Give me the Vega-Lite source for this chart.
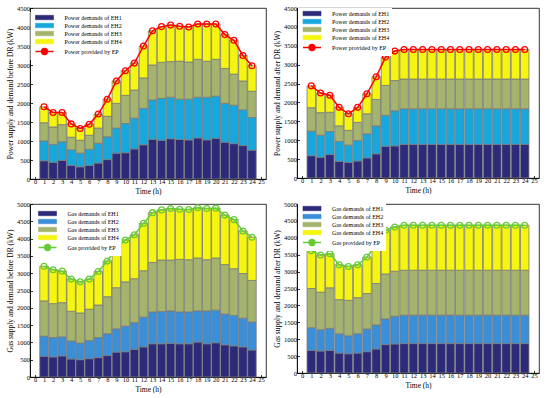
{
  "$schema": "https://vega.github.io/schema/vega-lite/v6.json",
  "padding": {"left": 5, "top": 4, "right": 2, "bottom": 0},
  "background": "white",
  "config": {
    "font": "Liberation Serif",
    "view": {"stroke": "#000", "strokeWidth": 0.8},
    "axis": {"labelFont": "Liberation Serif", "titleFont": "Liberation Serif", "labelFontSize": 6.5, "titleFontSize": 7.5, "titleFontWeight": "normal", "grid": false, "domainColor": "#000", "tickColor": "#000", "labelColor": "#000", "titleColor": "#000", "tickSize": -2.5, "domainWidth": 0.8, "tickWidth": 0.8, "format": "d"},
    "axisX": {"labelFlush": false, "labelOverlap": false, "labelPadding": 1.5, "titlePadding": 3},
    "axisY": {"labelOverlap": false, "labelPadding": 3, "titlePadding": 2.5},
    "legend": {"labelFont": "Liberation Serif", "labelFontSize": 6, "labelColor": "#000", "symbolSize": 25, "symbolOffset": 8.5, "labelOffset": 17, "rowPadding": 0, "padding": 2.5, "fillColor": "white", "orient": "none", "direction": "vertical", "title": null, "labelLimit": 200}
  },
  "datasets": {
    "p1": [
      {"h":1,"EH1":480,"EH2":520,"EH3":480,"EH4":420,"EP":1900},
      {"h":2,"EH1":440,"EH2":470,"EH3":460,"EH4":380,"EP":1750},
      {"h":3,"EH1":490,"EH2":490,"EH3":450,"EH4":320,"EP":1750},
      {"h":4,"EH1":360,"EH2":410,"EH3":330,"EH4":350,"EP":1450},
      {"h":5,"EH1":320,"EH2":360,"EH3":340,"EH4":310,"EP":1330},
      {"h":6,"EH1":360,"EH2":420,"EH3":370,"EH4":290,"EP":1440},
      {"h":7,"EH1":420,"EH2":520,"EH3":400,"EH4":360,"EP":1710},
      {"h":8,"EH1":510,"EH2":600,"EH3":540,"EH4":450,"EP":2100},
      {"h":9,"EH1":680,"EH2":660,"EH3":650,"EH4":590,"EP":2580},
      {"h":10,"EH1":690,"EH2":770,"EH3":740,"EH4":650,"EP":2850},
      {"h":11,"EH1":790,"EH2":810,"EH3":740,"EH4":710,"EP":3050},
      {"h":12,"EH1":900,"EH2":960,"EH3":800,"EH4":840,"EP":3500},
      {"h":13,"EH1":1040,"EH2":1040,"EH3":920,"EH4":900,"EP":3900},
      {"h":14,"EH1":1020,"EH2":1100,"EH3":950,"EH4":930,"EP":4010},
      {"h":15,"EH1":1060,"EH2":1090,"EH3":940,"EH4":960,"EP":4050},
      {"h":16,"EH1":1040,"EH2":1060,"EH3":1000,"EH4":920,"EP":4020},
      {"h":17,"EH1":1030,"EH2":1070,"EH3":980,"EH4":920,"EP":4000},
      {"h":18,"EH1":1080,"EH2":1070,"EH3":1000,"EH4":930,"EP":4080},
      {"h":19,"EH1":1030,"EH2":1120,"EH3":950,"EH4":980,"EP":4080},
      {"h":20,"EH1":1070,"EH2":1110,"EH3":970,"EH4":930,"EP":4080},
      {"h":21,"EH1":970,"EH2":1020,"EH3":920,"EH4":890,"EP":3800},
      {"h":22,"EH1":930,"EH2":1010,"EH3":820,"EH4":890,"EP":3650},
      {"h":23,"EH1":880,"EH2":940,"EH3":760,"EH4":670,"EP":3250},
      {"h":24,"EH1":760,"EH2":860,"EH3":690,"EH4":670,"EP":2980}
    ],
    "p2": [
      {"h":1,"EH1":590,"EH2":650,"EH3":620,"EH4":580,"EP":2440},
      {"h":2,"EH1":550,"EH2":580,"EH3":600,"EH4":520,"EP":2250},
      {"h":3,"EH1":620,"EH2":610,"EH3":510,"EH4":450,"EP":2190},
      {"h":4,"EH1":440,"EH2":530,"EH3":410,"EH4":490,"EP":1870},
      {"h":5,"EH1":410,"EH2":460,"EH3":390,"EH4":440,"EP":1700},
      {"h":6,"EH1":450,"EH2":540,"EH3":480,"EH4":400,"EP":1870},
      {"h":7,"EH1":530,"EH2":640,"EH3":530,"EH4":530,"EP":2230},
      {"h":8,"EH1":640,"EH2":740,"EH3":700,"EH4":600,"EP":2680},
      {"h":9,"EH1":840,"EH2":820,"EH3":790,"EH4":750,"EP":3200},
      {"h":10,"EH1":850,"EH2":930,"EH3":800,"EH4":780,"EP":3360},
      {"h":11,"EH1":890,"EH2":940,"EH3":790,"EH4":780,"EP":3400},
      {"h":12,"EH1":890,"EH2":940,"EH3":790,"EH4":780,"EP":3400},
      {"h":13,"EH1":890,"EH2":940,"EH3":790,"EH4":780,"EP":3400},
      {"h":14,"EH1":890,"EH2":940,"EH3":790,"EH4":780,"EP":3400},
      {"h":15,"EH1":890,"EH2":940,"EH3":790,"EH4":780,"EP":3400},
      {"h":16,"EH1":890,"EH2":940,"EH3":790,"EH4":780,"EP":3400},
      {"h":17,"EH1":890,"EH2":940,"EH3":790,"EH4":780,"EP":3400},
      {"h":18,"EH1":890,"EH2":940,"EH3":790,"EH4":780,"EP":3400},
      {"h":19,"EH1":890,"EH2":940,"EH3":790,"EH4":780,"EP":3400},
      {"h":20,"EH1":890,"EH2":940,"EH3":790,"EH4":780,"EP":3400},
      {"h":21,"EH1":890,"EH2":940,"EH3":790,"EH4":780,"EP":3400},
      {"h":22,"EH1":890,"EH2":940,"EH3":790,"EH4":780,"EP":3400},
      {"h":23,"EH1":890,"EH2":940,"EH3":790,"EH4":780,"EP":3400},
      {"h":24,"EH1":890,"EH2":940,"EH3":790,"EH4":780,"EP":3400}
    ],
    "p3": [
      {"h":1,"EH1":600,"EH2":580,"EH3":1020,"EH4":1000,"EP":3200},
      {"h":2,"EH1":580,"EH2":560,"EH3":980,"EH4":980,"EP":3100},
      {"h":3,"EH1":610,"EH2":550,"EH3":990,"EH4":910,"EP":3060},
      {"h":4,"EH1":520,"EH2":520,"EH3":860,"EH4":930,"EP":2830},
      {"h":5,"EH1":500,"EH2":480,"EH3":870,"EH4":900,"EP":2750},
      {"h":6,"EH1":530,"EH2":520,"EH3":910,"EH4":870,"EP":2830},
      {"h":7,"EH1":560,"EH2":580,"EH3":940,"EH4":970,"EP":3050},
      {"h":8,"EH1":620,"EH2":630,"EH3":1070,"EH4":1030,"EP":3350},
      {"h":9,"EH1":720,"EH2":670,"EH3":1190,"EH4":1150,"EP":3730},
      {"h":10,"EH1":730,"EH2":740,"EH3":1280,"EH4":1210,"EP":3960},
      {"h":11,"EH1":800,"EH2":770,"EH3":1270,"EH4":1270,"EP":4110},
      {"h":12,"EH1":870,"EH2":860,"EH3":1340,"EH4":1370,"EP":4440},
      {"h":13,"EH1":960,"EH2":920,"EH3":1430,"EH4":1440,"EP":4750},
      {"h":14,"EH1":960,"EH2":930,"EH3":1490,"EH4":1450,"EP":4830},
      {"h":15,"EH1":970,"EH2":940,"EH3":1470,"EH4":1490,"EP":4870},
      {"h":16,"EH1":960,"EH2":920,"EH3":1520,"EH4":1450,"EP":4850},
      {"h":17,"EH1":960,"EH2":920,"EH3":1510,"EH4":1450,"EP":4840},
      {"h":18,"EH1":1010,"EH2":900,"EH3":1530,"EH4":1450,"EP":4890},
      {"h":19,"EH1":960,"EH2":950,"EH3":1480,"EH4":1480,"EP":4870},
      {"h":20,"EH1":990,"EH2":940,"EH3":1510,"EH4":1440,"EP":4880},
      {"h":21,"EH1":930,"EH2":890,"EH3":1430,"EH4":1430,"EP":4680},
      {"h":22,"EH1":900,"EH2":880,"EH3":1350,"EH4":1420,"EP":4550},
      {"h":23,"EH1":870,"EH2":830,"EH3":1290,"EH4":1230,"EP":4220},
      {"h":24,"EH1":780,"EH2":810,"EH3":1200,"EH4":1250,"EP":4040}
    ],
    "p4": [
      {"h":1,"EH1":670,"EH2":670,"EH3":1160,"EH4":1120,"EP":3620},
      {"h":2,"EH1":650,"EH2":630,"EH3":1110,"EH4":1100,"EP":3490},
      {"h":3,"EH1":670,"EH2":650,"EH3":1200,"EH4":1010,"EP":3530},
      {"h":4,"EH1":590,"EH2":570,"EH3":1010,"EH4":1030,"EP":3200},
      {"h":5,"EH1":570,"EH2":530,"EH3":1050,"EH4":1000,"EP":3150},
      {"h":6,"EH1":590,"EH2":570,"EH3":1070,"EH4":970,"EP":3200},
      {"h":7,"EH1":630,"EH2":670,"EH3":1050,"EH4":1080,"EP":3430},
      {"h":8,"EH1":710,"EH2":710,"EH3":1230,"EH4":1150,"EP":3800},
      {"h":9,"EH1":840,"EH2":760,"EH3":1330,"EH4":1290,"EP":4220},
      {"h":10,"EH1":860,"EH2":820,"EH3":1330,"EH4":1310,"EP":4320},
      {"h":11,"EH1":870,"EH2":840,"EH3":1330,"EH4":1330,"EP":4370},
      {"h":12,"EH1":870,"EH2":840,"EH3":1330,"EH4":1330,"EP":4370},
      {"h":13,"EH1":870,"EH2":840,"EH3":1330,"EH4":1330,"EP":4370},
      {"h":14,"EH1":870,"EH2":840,"EH3":1330,"EH4":1330,"EP":4370},
      {"h":15,"EH1":870,"EH2":840,"EH3":1330,"EH4":1330,"EP":4370},
      {"h":16,"EH1":870,"EH2":840,"EH3":1330,"EH4":1330,"EP":4370},
      {"h":17,"EH1":870,"EH2":840,"EH3":1330,"EH4":1330,"EP":4370},
      {"h":18,"EH1":870,"EH2":840,"EH3":1330,"EH4":1330,"EP":4370},
      {"h":19,"EH1":870,"EH2":840,"EH3":1330,"EH4":1330,"EP":4370},
      {"h":20,"EH1":870,"EH2":840,"EH3":1330,"EH4":1330,"EP":4370},
      {"h":21,"EH1":870,"EH2":840,"EH3":1330,"EH4":1330,"EP":4370},
      {"h":22,"EH1":870,"EH2":840,"EH3":1330,"EH4":1330,"EP":4370},
      {"h":23,"EH1":870,"EH2":840,"EH3":1330,"EH4":1330,"EP":4370},
      {"h":24,"EH1":870,"EH2":840,"EH3":1330,"EH4":1330,"EP":4370}
    ]
  },
  "resolve": {"scale": {"color": "independent"}, "legend": {"color": "independent"}},
  "spacing": 4,
  "vconcat": [
    {
      "resolve": {"scale": {"color": "independent"}, "legend": {"color": "independent"}},
      "spacing": 5,
      "hconcat": [
        {
          "width": 236, "height": 171,
          "data": {"name": "p1"},
          "encoding": {
            "x": {"field": "h", "type": "quantitative", "scale": {"domain": [0,25]}, "axis": {"values": [0,1,2,3,4,5,6,7,8,9,10,11,12,13,14,15,16,17,18,19,20,21,22,23,24,25], "title": "Time (h)"}},
            "y": {"field": "v", "type": "quantitative", "scale": {"domain": [0,4500]}, "axis": {"values": [0,500,1000,1500,2000,2500,3000,3500,4000,4500], "title": "Power supply and demand before DR (kW)"}},
            "color": {"field": "s", "type": "nominal", "scale": {"domain": ["EH1","EH2","EH3","EH4","EP"], "range": ["#2e2a7a","#18a7dc","#a4b46c","#f5f510","#ff0000"]},
              "legend": {"legendX": 0.5, "legendY": 4, "labelExpr": "datum.label == 'EP' ? 'Power provided by EP' : 'Power demands of ' + datum.label",
                "encode": {"symbols": {"update": {
                  "shape": {"signal": "datum.index == 4 ? 'M-3.6,0H-1.2M1.2,0H3.6M1.2,0A1.2,1.2 0 1 1 -1.2,0A1.2,1.2 0 1 1 1.2,0' : 'M-3.6,-0.88H3.6V0.88H-3.6Z'"},
                  "fill": {"signal": "datum.index == 4 ? 'white' : ['#2e2a7a','#18a7dc','#a4b46c','#f5f510'][datum.index]"},
                  "stroke": {"signal": "datum.index == 4 ? '#ff0000' : '#333333'"},
                  "strokeWidth": {"signal": "datum.index == 4 ? 1.3 : 0.6"},
                  "opacity": {"value": 1}}}}}}
          },
          "layer": [
            {
              "transform": [{"fold": ["EH1","EH2","EH3","EH4"], "as": ["s","v"]}],
              "mark": {"type": "bar", "size": 8.5, "stroke": "#7a7a7a", "strokeWidth": 0.8},
              "encoding": {"order": {"field": "s", "sort": "ascending"}}
            },
            {
              "transform": [{"fold": ["EP"], "as": ["s","v"]}],
              "mark": {"type": "line", "strokeWidth": 1.5},
              "encoding": {}
            },
            {
              "transform": [{"fold": ["EP"], "as": ["s","v"]}],
              "mark": {"type": "point", "shape": "circle", "filled": false, "size": 34, "strokeWidth": 1.3, "opacity": 1},
              "encoding": {}
            }
          ]
        },
        {
          "width": 242, "height": 170,
          "data": {"name": "p2"},
          "encoding": {
            "x": {"field": "h", "type": "quantitative", "scale": {"domain": [0,25]}, "axis": {"values": [0,1,2,3,4,5,6,7,8,9,10,11,12,13,14,15,16,17,18,19,20,21,22,23,24,25], "title": "Time (h)"}},
            "y": {"field": "v", "type": "quantitative", "scale": {"domain": [0,4500]}, "axis": {"values": [0,500,1000,1500,2000,2500,3000,3500,4000,4500], "title": "Power supply and demand after DR (kW)"}},
            "color": {"field": "s", "type": "nominal", "scale": {"domain": ["EH1","EH2","EH3","EH4","EP"], "range": ["#2e2a7a","#18a7dc","#a4b46c","#f5f510","#ff0000"]},
              "legend": {"legendX": 1, "legendY": 0, "labelExpr": "datum.label == 'EP' ? 'Power provided by EP' : 'Power demands of ' + datum.label",
                "encode": {"symbols": {"update": {
                  "shape": {"signal": "datum.index == 4 ? 'M-3.6,0H-1.2M1.2,0H3.6M1.2,0A1.2,1.2 0 1 1 -1.2,0A1.2,1.2 0 1 1 1.2,0' : 'M-3.6,-0.88H3.6V0.88H-3.6Z'"},
                  "fill": {"signal": "datum.index == 4 ? 'white' : ['#2e2a7a','#18a7dc','#a4b46c','#f5f510'][datum.index]"},
                  "stroke": {"signal": "datum.index == 4 ? '#ff0000' : '#333333'"},
                  "strokeWidth": {"signal": "datum.index == 4 ? 1.3 : 0.6"},
                  "opacity": {"value": 1}}}}}}
          },
          "layer": [
            {
              "transform": [{"fold": ["EH1","EH2","EH3","EH4"], "as": ["s","v"]}],
              "mark": {"type": "bar", "size": 8.5, "stroke": "#7a7a7a", "strokeWidth": 0.8},
              "encoding": {"order": {"field": "s", "sort": "ascending"}}
            },
            {
              "transform": [{"fold": ["EP"], "as": ["s","v"]}],
              "mark": {"type": "line", "strokeWidth": 1.5},
              "encoding": {}
            },
            {
              "transform": [{"fold": ["EP"], "as": ["s","v"]}],
              "mark": {"type": "point", "shape": "circle", "filled": false, "size": 34, "strokeWidth": 1.3, "opacity": 1},
              "encoding": {}
            }
          ]
        }
      ]
    },
    {
      "resolve": {"scale": {"color": "independent"}, "legend": {"color": "independent"}},
      "spacing": 5,
      "hconcat": [
        {
          "width": 236, "height": 173,
          "data": {"name": "p3"},
          "encoding": {
            "x": {"field": "h", "type": "quantitative", "scale": {"domain": [0,25]}, "axis": {"values": [0,1,2,3,4,5,6,7,8,9,10,11,12,13,14,15,16,17,18,19,20,21,22,23,24,25], "title": "Time (h)"}},
            "y": {"field": "v", "type": "quantitative", "scale": {"domain": [0,5000]}, "axis": {"values": [0,500,1000,1500,2000,2500,3000,3500,4000,4500,5000], "title": "Gas supply and demand before DR (kW)"}},
            "color": {"field": "s", "type": "nominal", "scale": {"domain": ["EH1","EH2","EH3","EH4","EP"], "range": ["#2e2a7a","#3a8fd8","#a4b46c","#f5f510","#66cc33"]},
              "legend": {"legendX": 3.5, "legendY": 4, "labelExpr": "datum.label == 'EP' ? 'Gas provided by EP' : 'Gas demands of ' + datum.label",
                "encode": {"symbols": {"update": {
                  "shape": {"signal": "datum.index == 4 ? 'M-3.6,0H-1.2M1.2,0H3.6M1.2,0A1.2,1.2 0 1 1 -1.2,0A1.2,1.2 0 1 1 1.2,0' : 'M-3.6,-0.88H3.6V0.88H-3.6Z'"},
                  "fill": {"signal": "datum.index == 4 ? 'white' : ['#2e2a7a','#3a8fd8','#a4b46c','#f5f510'][datum.index]"},
                  "stroke": {"signal": "datum.index == 4 ? '#66cc33' : '#333333'"},
                  "strokeWidth": {"signal": "datum.index == 4 ? 1.3 : 0.6"},
                  "opacity": {"value": 1}}}}}}
          },
          "layer": [
            {
              "transform": [{"fold": ["EH1","EH2","EH3","EH4"], "as": ["s","v"]}],
              "mark": {"type": "bar", "size": 8.5, "stroke": "#7a7a7a", "strokeWidth": 0.8},
              "encoding": {"order": {"field": "s", "sort": "ascending"}}
            },
            {
              "transform": [{"fold": ["EP"], "as": ["s","v"]}],
              "mark": {"type": "line", "strokeWidth": 1.5},
              "encoding": {}
            },
            {
              "transform": [{"fold": ["EP"], "as": ["s","v"]}],
              "mark": {"type": "point", "shape": "circle", "filled": false, "size": 34, "strokeWidth": 1.3, "opacity": 1},
              "encoding": {}
            }
          ]
        },
        {
          "width": 242, "height": 169,
          "data": {"name": "p4"},
          "encoding": {
            "x": {"field": "h", "type": "quantitative", "scale": {"domain": [0,25]}, "axis": {"values": [0,1,2,3,4,5,6,7,8,9,10,11,12,13,14,15,16,17,18,19,20,21,22,23,24,25], "title": "Time (h)"}},
            "y": {"field": "v", "type": "quantitative", "scale": {"domain": [0,5000]}, "axis": {"values": [0,500,1000,1500,2000,2500,3000,3500,4000,4500,5000], "title": "Gas supply and demand after DR (kW)"}},
            "color": {"field": "s", "type": "nominal", "scale": {"domain": ["EH1","EH2","EH3","EH4","EP"], "range": ["#2e2a7a","#3a8fd8","#a4b46c","#f5f510","#66cc33"]},
              "legend": {"legendX": 1, "legendY": -1, "labelExpr": "datum.label == 'EP' ? 'Gas provided by EP' : 'Gas demands of ' + datum.label",
                "encode": {"symbols": {"update": {
                  "shape": {"signal": "datum.index == 4 ? 'M-3.6,0H-1.2M1.2,0H3.6M1.2,0A1.2,1.2 0 1 1 -1.2,0A1.2,1.2 0 1 1 1.2,0' : 'M-3.6,-0.88H3.6V0.88H-3.6Z'"},
                  "fill": {"signal": "datum.index == 4 ? 'white' : ['#2e2a7a','#3a8fd8','#a4b46c','#f5f510'][datum.index]"},
                  "stroke": {"signal": "datum.index == 4 ? '#66cc33' : '#333333'"},
                  "strokeWidth": {"signal": "datum.index == 4 ? 1.3 : 0.6"},
                  "opacity": {"value": 1}}}}}}
          },
          "layer": [
            {
              "transform": [{"fold": ["EH1","EH2","EH3","EH4"], "as": ["s","v"]}],
              "mark": {"type": "bar", "size": 8.5, "stroke": "#7a7a7a", "strokeWidth": 0.8},
              "encoding": {"order": {"field": "s", "sort": "ascending"}}
            },
            {
              "transform": [{"fold": ["EP"], "as": ["s","v"]}],
              "mark": {"type": "line", "strokeWidth": 1.5},
              "encoding": {}
            },
            {
              "transform": [{"fold": ["EP"], "as": ["s","v"]}],
              "mark": {"type": "point", "shape": "circle", "filled": false, "size": 34, "strokeWidth": 1.3, "opacity": 1},
              "encoding": {}
            }
          ]
        }
      ]
    }
  ]
}
